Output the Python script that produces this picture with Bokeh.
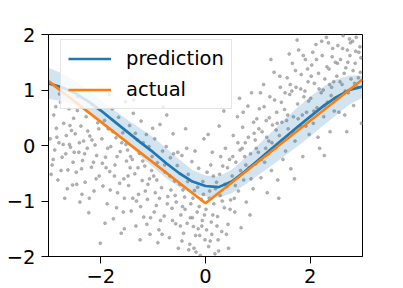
from bokeh.plotting import figure
from bokeh.models import Range1d, FixedTicker, Legend, LegendItem
from bokeh.embed import file_html
from bokeh.resources import INLINE

# ---- data ----
scatter_x = [
    -2.97, -2.93, -2.90, -2.88, -2.85, -2.82, -2.80, -2.77, -2.74, -2.71, -2.69, -2.66, -2.63, -2.61, -2.58, -2.56, -2.54, -2.52, -2.95, -2.79, -2.67, -2.60, -2.86, -2.53,
    -2.49, -2.47, -2.45, -2.42, -2.40, -2.38, -2.35, -2.33, -2.30, -2.28, -2.26, -2.23, -2.21, -2.18, -2.16, -2.13, -2.11, -2.08, -2.06, -2.03, -2.01, -2.44, -2.36, -2.25, -2.14,
    -1.98, -1.96, -1.93, -1.91, -1.88, -1.86, -1.83, -1.81, -1.78, -1.76, -1.73, -1.71, -1.68, -1.66, -1.63, -1.61, -1.58, -1.56, -1.53, -1.51, -1.90, -1.70, -1.60, -1.84, -1.55, -1.74,
    -1.49, -1.47, -1.45, -1.42, -1.40, -1.38, -1.35, -1.33, -1.30, -1.28, -1.26, -1.23, -1.21, -1.18, -1.16, -1.13, -1.11, -1.08, -1.06, -1.03, -1.01, -1.44, -1.32, -1.19, -1.10, -1.25, -1.37,
    -0.99, -0.97, -0.94, -0.92, -0.89, -0.87, -0.84, -0.82, -0.79, -0.77, -0.74, -0.72, -0.69, -0.67, -0.64, -0.62, -0.59, -0.57, -0.54, -0.52, -0.96, -0.86, -0.75, -0.66, -0.56, -0.81, -0.61, -0.91,
    -0.49, -0.47, -0.45, -0.42, -0.40, -0.38, -0.35, -0.33, -0.30, -0.28, -0.26, -0.23, -0.21, -0.18, -0.16, -0.13, -0.11, -0.08, -0.06, -0.03, -0.01, -0.44, -0.36, -0.25, -0.14, -0.05, -0.20, -0.10, -0.32,
    0.01, 0.03, 0.06, 0.08, 0.11, 0.13, 0.16, 0.18, 0.21, 0.23, 0.26, 0.28, 0.31, 0.33, 0.36, 0.38, 0.41, 0.43, 0.46, 0.48, 0.05, 0.15, 0.24, 0.35, 0.44, 0.12, 0.29,
    0.51, 0.53, 0.56, 0.58, 0.61, 0.63, 0.66, 0.68, 0.71, 0.73, 0.76, 0.78, 0.81, 0.83, 0.86, 0.88, 0.91, 0.93, 0.96, 0.98, 0.55, 0.65, 0.75, 0.85, 0.95, 0.70,
    1.01, 1.03, 1.06, 1.08, 1.11, 1.13, 1.16, 1.18, 1.21, 1.23, 1.26, 1.28, 1.31, 1.33, 1.36, 1.38, 1.41, 1.43, 1.46, 1.48, 1.05, 1.15, 1.25, 1.35, 1.45, 1.20, 1.40,
    1.51, 1.53, 1.56, 1.58, 1.61, 1.63, 1.66, 1.68, 1.71, 1.73, 1.76, 1.78, 1.81, 1.83, 1.86, 1.88, 1.91, 1.93, 1.96, 1.98, 1.55, 1.65, 1.75, 1.85, 1.95, 1.60, 1.70, 1.90,
    2.01, 2.03, 2.06, 2.08, 2.11, 2.13, 2.16, 2.18, 2.21, 2.23, 2.26, 2.28, 2.31, 2.33, 2.36, 2.38, 2.41, 2.43, 2.46, 2.48, 2.05, 2.15, 2.25, 2.35, 2.45, 2.27, 2.40,
    2.51, 2.53, 2.56, 2.58, 2.61, 2.63, 2.66, 2.68, 2.71, 2.73, 2.76, 2.78, 2.81, 2.83, 2.86, 2.88, 2.91, 2.93, 2.96, 2.98, 2.55, 2.65, 2.75, 2.85, 2.95, 2.70,
    -2.91, -2.84, -2.76, -2.72, -2.64, -2.59, -2.51, -2.46, -2.41, -2.37, -2.31, -2.22, -2.17, -2.09, -2.04, -1.97, -1.92, -1.87, -1.82, -1.77, -1.69, -1.64, -1.57, -1.52,
    -1.48, -1.43, -1.39, -1.34, -1.29, -1.24, -1.20, -1.15, -1.12, -1.07, -1.02, -0.98, -0.93, -0.88, -0.83, -0.78, -0.73, -0.68, -0.63, -0.58, -0.53, -0.48, -0.43, -0.39, -0.34, -0.29, -0.24, -0.19, -0.15, -0.12, -0.07, -0.04, -0.02,
    0.02, 0.07, 0.10, 0.14, 0.19, 0.22, 0.27, 0.32, 0.37, 0.42, 0.47, 0.52, 0.57, 0.62, 0.67, 0.72, 0.77, 0.82, 0.87, 0.92, 0.97,
    1.02, 1.07, 1.12, 1.17, 1.22, 1.27, 1.32, 1.37, 1.42, 1.47, 1.52, 1.57, 1.62, 1.67, 1.72, 1.77, 1.82, 1.87, 1.92, 1.97,
    2.02, 2.07, 2.12, 2.17, 2.22, 2.27, 2.32, 2.37, 2.42, 2.47, 2.52, 2.57, 2.62, 2.67, 2.72, 2.77, 2.82, 2.87, 2.92, 2.97,
    -0.22, 0.09, 0.25, -0.45, 0.40, -1.05, -1.55,
]
scatter_y = [
    0.12, -0.35, 0.55, -0.08, 0.31, -0.62, 0.05, 0.78, -0.21, 0.40, -0.95, 0.18, -0.44, 0.66, -0.03, 0.27, -0.71, 0.49, -0.52, 0.93, -0.15, 0.02, 0.70, -0.30,
    0.21, -0.48, 0.63, -0.12, -1.02, 0.35, -0.27, 0.08, -0.66, 0.52, -0.05, -1.21, 0.17, -0.39, 0.74, -0.82, 0.01, -0.18, 0.41, -0.55, -1.76, 0.88, -0.88, 0.26, -0.30,
    0.12, -0.73, 0.45, -0.21, -1.05, 0.30, -0.47, -0.02, 0.66, -1.32, -0.35, 0.14, -0.85, 0.51, -0.11, -1.58, 0.23, -0.60, 0.79, -0.28, -0.40, -1.12, 0.05, 0.92, -0.95, -0.55,
    -0.08, -0.72, 0.36, -1.18, -0.25, 0.58, -0.51, -1.45, 0.10, -0.88, -0.14, 0.44, -0.63, -1.29, -0.37, 0.20, -0.97, -0.02, -1.60, -0.45, 0.31, -0.40, -1.00, 0.05, -0.70, -1.70, 0.82,
    -0.55, 0.12, -1.08, -0.31, -1.52, 0.38, -0.76, -0.10, -1.27, -0.48, 0.55, -0.92, -1.66, -0.22, -1.13, 0.21, -0.64, -1.41, -0.36, -1.85, -0.85, -1.35, -0.02, -0.80, -1.02, 0.70, -0.15, -1.75,
    -0.70, -1.25, -0.18, -1.58, -0.93, 0.30, -1.40, -0.52, -1.78, -1.05, -0.29, -1.46, -0.81, -1.92, -1.20, -0.41, -1.62, -0.97, -1.35, 0.12, -1.70, -1.10, -0.05, -1.30, -1.50, -0.65, -0.10, -1.98, -1.88,
    -1.15, -0.48, -1.82, -0.82, -1.38, -0.12, -1.05, -1.95, -0.66, -1.28, 0.35, -0.90, -1.55, -0.37, -1.12, -0.05, -0.74, -1.42, -0.25, -0.98, 0.20, -0.55, -1.70, 0.62, -1.85, -1.60, -0.20,
    -0.55, 0.18, -1.20, -0.30, 0.52, -0.82, -0.08, -1.48, 0.33, -0.62, 0.05, -1.02, 0.71, -0.40, -0.15, 0.95, -0.78, 0.22, -0.33, 0.48, -0.95, 0.85, -0.20, -1.25, 0.10, -0.05,
    -0.12, 0.66, -0.58, 0.25, 1.10, -0.30, 0.45, -0.85, 0.08, 0.88, -0.45, 0.37, 1.32, -0.05, 0.60, -0.62, 0.18, 1.05, 0.42, -0.25, 0.95, -0.05, 1.55, 0.28, 0.78, -0.15, -0.95,
    0.65, -0.10, 1.22, 0.30, 0.92, -0.42, 1.48, 0.52, 0.08, 1.05, 0.75, 1.72, 0.35, 1.28, -0.20, 0.88, 1.55, 0.60, 1.15, 0.20, 0.45, 0.98, 1.90, 0.55, 1.38, 1.65, -0.60, 0.98,
    0.85, 1.45, 0.40, 1.12, 1.82, 0.68, 1.30, -0.05, 0.95, 1.62, 0.52, 1.20, 1.95, 0.78, 1.38, 0.25, 1.05, 1.75, 0.62, 1.50, 1.68, 0.15, 1.00, 1.85, 1.15, -0.18, 0.90,
    1.25, 1.80, 0.88, 1.55, 1.10, 1.98, 0.55, 1.40, 1.72, 0.95, 1.62, 1.20, 1.88, 0.72, 1.48, 1.95, 1.05, 1.68, 1.32, 0.40, 0.60, 1.30, 1.92, 1.12, 1.78, 0.25,
    -0.25, 0.15, -0.45, 0.02, -0.78, 0.36, -0.12, -0.70, 0.05, -0.42, -0.15, -0.95, 0.10, -0.60, 0.30, -0.32, -1.40, -0.05, -0.80, 0.25, -0.20, -0.68, -1.20, 0.02,
    -0.55, -0.20, -0.95, 0.22, -0.40, -1.10, -0.28, -0.82, -1.42, -0.60, -0.20, -1.20, -0.62, -0.95, -1.60, -0.35, -1.05, -0.55, -1.35, -0.90, -0.12, -1.45, -0.80, -1.15, -0.65, -1.30, -0.95, -1.62, -0.75, -1.10, -1.45, -0.88, -1.25,
    -1.52, -0.95, -0.35, -1.25, -0.78, -1.45, -0.52, -1.00, -0.70, -0.40, -1.15, -0.20, -0.72, 0.05, -0.45, 0.60, -0.35, 0.15, -0.60, 0.42, -0.05,
    0.30, -0.25, 0.70, 0.15, 0.50, 0.05, 0.82, 0.40, 1.25, 0.10, 0.95, 0.55, 1.10, 0.25, 1.35, 0.48, 1.02, 1.62, 0.35, 0.80,
    1.25, 0.62, 1.55, 1.02, 1.88, 0.72, 1.42, 1.10, 1.60, 0.85, 1.48, 1.15, 1.75, 0.98, 1.50, 1.85, 1.35, 1.70, 1.22, 1.58,
    -1.85, -1.72, -1.90, -1.72, -1.60, -1.30, -1.50,
]

grid_x = [-3.0, -2.75, -2.5, -2.25, -2.0, -1.75, -1.5, -1.25, -1.0, -0.75, -0.5, -0.25,
          0.0, 0.25, 0.5, 0.75, 1.0, 1.25, 1.5, 1.75, 2.0, 2.25, 2.5, 2.75, 3.0]
prediction = [1.12, 1.05, 0.95, 0.80, 0.63, 0.44, 0.25, 0.06, -0.12, -0.32, -0.50, -0.65,
              -0.73, -0.75, -0.65, -0.47, -0.27, -0.07, 0.13, 0.33, 0.52, 0.71, 0.87, 1.00, 1.06]
band_lower = [0.84, 0.80, 0.73, 0.60, 0.44, 0.24, 0.03, -0.19, -0.39, -0.59, -0.75, -0.86,
              -0.92, -0.94, -0.86, -0.71, -0.54, -0.37, -0.20, -0.02, 0.16, 0.36, 0.55, 0.74, 0.86]
band_upper = [1.40, 1.30, 1.17, 1.00, 0.82, 0.64, 0.47, 0.31, 0.15, -0.05, -0.25, -0.44,
              -0.54, -0.56, -0.44, -0.23, 0.00, 0.23, 0.46, 0.68, 0.88, 1.06, 1.19, 1.26, 1.26]

actual_x = [-3.0, 0.0, 3.0]
actual_y = [1.16, -1.04, 1.19]

x_ticks = [-2, 0, 2]
x_tick_labels = ["\u22122", "0", "2"]
y_ticks = [-2, -1, 0, 1, 2]
y_tick_labels = ["\u22122", "\u22121", "0", "1", "2"]

FONT = "DejaVu Sans"
FONT_SIZE = "19.5px"

p = figure(width=403, height=288, output_backend="svg", toolbar_location=None,
           x_range=Range1d(-3, 3), y_range=Range1d(-2, 2))
p.min_border = 0
p.min_border_left = 48
p.min_border_right = 41
p.min_border_top = 34
p.min_border_bottom = 32
p.background_fill_color = "white"
p.border_fill_color = "white"
p.outline_line_color = "black"
p.outline_line_width = 1
p.xgrid.visible = False
p.ygrid.visible = False

p.scatter(scatter_x, scatter_y, size=3, fill_color="#9a9a9a", line_color="#8a8a8a",
          line_width=0.6, alpha=0.75)

p.varea(x=grid_x, y1=band_lower, y2=band_upper, fill_color="#1f77b4", fill_alpha=0.2)
r_pred = p.line(grid_x, prediction, line_color="#1f77b4", line_width=2.7)
r_act = p.line(actual_x, actual_y, line_color="#ff7f0e", line_width=2.7)

for ax, ticks, labels in ((p.xaxis[0], x_ticks, x_tick_labels), (p.yaxis[0], y_ticks, y_tick_labels)):
    ax.ticker = FixedTicker(ticks=ticks)
    ax.major_label_overrides = {t: l for t, l in zip(ticks, labels)}
    ax.minor_tick_line_color = None
    ax.major_tick_in = 0
    ax.major_tick_out = 7
    ax.major_tick_line_color = "black"
    ax.axis_line_color = "black"
    ax.major_label_text_font = FONT
    ax.major_label_text_font_size = FONT_SIZE
    ax.major_label_text_color = "black"
p.xaxis[0].major_label_standoff = 5
p.yaxis[0].major_label_standoff = 6

legend = Legend(items=[LegendItem(label="prediction", renderers=[r_pred]),
                       LegendItem(label="actual", renderers=[r_act])],
                location=(12, 147))
legend.label_text_font = FONT
legend.label_text_font_size = FONT_SIZE
legend.label_text_color = "black"
legend.glyph_width = 43
legend.glyph_height = 21
legend.label_height = 21
legend.label_standoff = 15
legend.spacing = 8
legend.padding = 7
legend.margin = 0
legend.border_line_color = "#cccccc"
legend.border_line_width = 1
legend.background_fill_color = "white"
legend.background_fill_alpha = 0.8
p.add_layout(legend, "center")

open("out.html", "w").write(file_html(p, INLINE))
